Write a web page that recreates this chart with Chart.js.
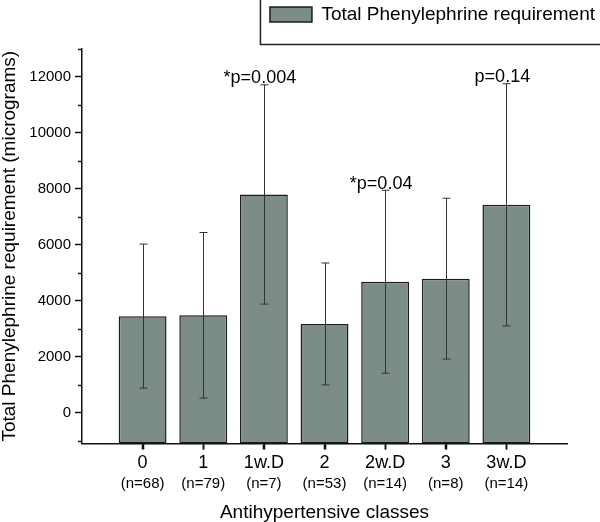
<!DOCTYPE html>
<html><head><meta charset="utf-8">
<script src="https://cdn.jsdelivr.net/npm/chart.js@4.4.0/dist/chart.umd.min.js"></script>
<style>html,body{margin:0;padding:0;background:#fff}</style>
</head><body>
<canvas id="c" width="600" height="522"></canvas>
<script>
const categories = ['0','1','1w.D','2','2w.D','3','3w.D'];
const sampleSizes = ['(n=68)','(n=79)','(n=7)','(n=53)','(n=14)','(n=8)','(n=14)'];
const means = [3450, 3480, 7800, 3170, 4680, 4790, 7430];
const errors = [2575, 2960, 3920, 2180, 3270, 2875, 4330];
const yTicks = [0, 2000, 4000, 6000, 8000, 10000, 12000];
const yMinorTicks = [-1000, 1000, 3000, 5000, 7000, 9000, 11000, 13000];
const annotationIndex = [2, 4, 6];
const annotationText = ['*p=0.004', '*p=0.04', 'p=0.14'];
const seriesLabel = 'Total Phenylephrine requirement';
const xTitle = 'Antihypertensive classes';
const yTitle = 'Total Phenylephrine requirement (micrograms)';
const yMin = -1100, yMax = 13000;

Chart.defaults.font.family = "'Liberation Sans', Arial, sans-serif";
Chart.defaults.color = '#000';

const extrasPlugin = {
  id: 'extras',
  beforeLayout(chart) {
    const lg = chart.legend;
    if (lg && !lg._patched) {
      const orig = lg.fit;
      lg.fit = function () { orig.call(this); this.height += 15; };
      lg._patched = true;
    }
  },
  afterDatasetsDraw(chart) {
    const ctx = chart.ctx;
    const ys = chart.scales.y;
    const meta = chart.getDatasetMeta(0);
    ctx.save();
    ctx.strokeStyle = '#333';
    ctx.lineWidth = 1;
    meta.data.forEach((el, i) => {
      const x = Math.round(el.x) + 0.5;
      const top = ys.getPixelForValue(means[i] + errors[i]);
      const bot = ys.getPixelForValue(means[i] - errors[i]);
      ctx.beginPath();
      ctx.moveTo(x, top); ctx.lineTo(x, bot);
      ctx.moveTo(x - 4, top); ctx.lineTo(x + 4, top);
      ctx.moveTo(x - 4, bot); ctx.lineTo(x + 4, bot);
      ctx.stroke();
    });
    ctx.fillStyle = '#000';
    ctx.font = "18px 'Liberation Sans', Arial, sans-serif";
    ctx.textAlign = 'center';
    ctx.textBaseline = 'alphabetic';
    annotationIndex.forEach((idx, k) => {
      const el = meta.data[idx];
      const top = ys.getPixelForValue(means[idx] + errors[idx]);
      ctx.fillText(annotationText[k], el.x - 4, top - 1.5);
    });
    ctx.restore();
  },
  afterDraw(chart) {
    const ctx = chart.ctx;
    const ys = chart.scales.y;
    const meta = chart.getDatasetMeta(0);
    const base = chart.chartArea.bottom;
    ctx.save();
    ctx.strokeStyle = '#111';
    ctx.lineWidth = 1.5;
    ctx.beginPath();
    yMinorTicks.forEach(v => {
      const y = Math.round(ys.getPixelForValue(v)) + 0.5;
      ctx.moveTo(ys.right - 4, y); ctx.lineTo(ys.right, y);
    });
    meta.data.forEach(el => {
      const x = Math.round(el.x) + 0.5;
      ctx.moveTo(x, base); ctx.lineTo(x, base + 6);
    });
    ctx.stroke();
    const lg = chart.legend;
    if (lg && lg.legendHitBoxes && lg.legendHitBoxes[0]) {
      const hb = lg.legendHitBoxes[0];
      ctx.strokeStyle = '#222';
      ctx.lineWidth = 1.5;
      ctx.strokeRect(hb.left - 9.5, -5, 800, 49.5);
    }
    ctx.restore();
  }
};

new Chart(document.getElementById('c'), {
  type: 'bar',
  data: {
    datasets: [{
      label: seriesLabel,
      data: means.map((v, i) => ({ x: i, y: v })),
      base: yMin,
      backgroundColor: '#7b8c89',
      borderColor: '#1c1c1c',
      borderWidth: 1.5,
      borderSkipped: false,
      barPercentage: 0.79,
      categoryPercentage: 1,
      xAxisID: 'x',
      yAxisID: 'y'
    }]
  },
  options: {
    responsive: false,
    animation: false,
    devicePixelRatio: 1,
    layout: { padding: 0 },
    plugins: {
      tooltip: { enabled: false },
      legend: {
        position: 'top',
        align: 'end',
        labels: { boxWidth: 42, boxHeight: 15, padding: 5, font: { size: 19 }, color: '#000' }
      }
    },
    scales: {
      x: {
        type: 'linear', min: -1, max: 7, position: 'bottom', weight: 0, offset: false,
        afterBuildTicks: s => { s.ticks = categories.map((_, i) => ({ value: i })); },
        ticks: { callback: v => categories[v], font: { size: 18, lineHeight: 1 }, color: '#000', padding: 4.8, maxRotation: 0, autoSkip: false },
        grid: { display: true, drawOnChartArea: false, drawTicks: true, offset: false, tickLength: 6, color: '#000', tickColor: '#000', tickWidth: 1.5 },
        border: { color: '#111', width: 1.5 }
      },
      xN: {
        type: 'linear', min: -1, max: 7, position: 'bottom', weight: 1, offset: false,
        afterBuildTicks: s => { s.ticks = categories.map((_, i) => ({ value: i })); },
        ticks: { callback: v => sampleSizes[v], font: { size: 15, lineHeight: 1 }, color: '#000', padding: -1, maxRotation: 0, autoSkip: false },
        grid: { display: false, drawTicks: false, offset: false },
        border: { display: false },
        title: { display: true, text: xTitle, font: { size: 19, lineHeight: 1 }, color: '#000', padding: { top: 13, bottom: 0 } }
      },
      y: {
        type: 'linear', min: yMin, max: yMax, position: 'left',
        afterBuildTicks: s => { s.ticks = yTicks.map(v => ({ value: v })); },
        afterFit: s => { s.width = 82; },
        ticks: { callback: v => String(v), font: { size: 15 }, color: '#000', padding: 4 },
        grid: { drawOnChartArea: false, tickLength: 7, color: '#111', tickWidth: 1.5 },
        border: { color: '#111', width: 1.5 },
        title: { display: true, text: yTitle, font: { size: 19, lineHeight: 1 }, color: '#000', padding: { top: 0, bottom: 0 } }
      },
      yR: {
        type: 'linear', position: 'right', display: true,
        grid: { display: false, drawTicks: false },
        ticks: { display: false },
        border: { display: false },
        afterFit: s => { s.width = 33; }
      }
    }
  },
  plugins: [extrasPlugin]
});
</script>
</body></html>
